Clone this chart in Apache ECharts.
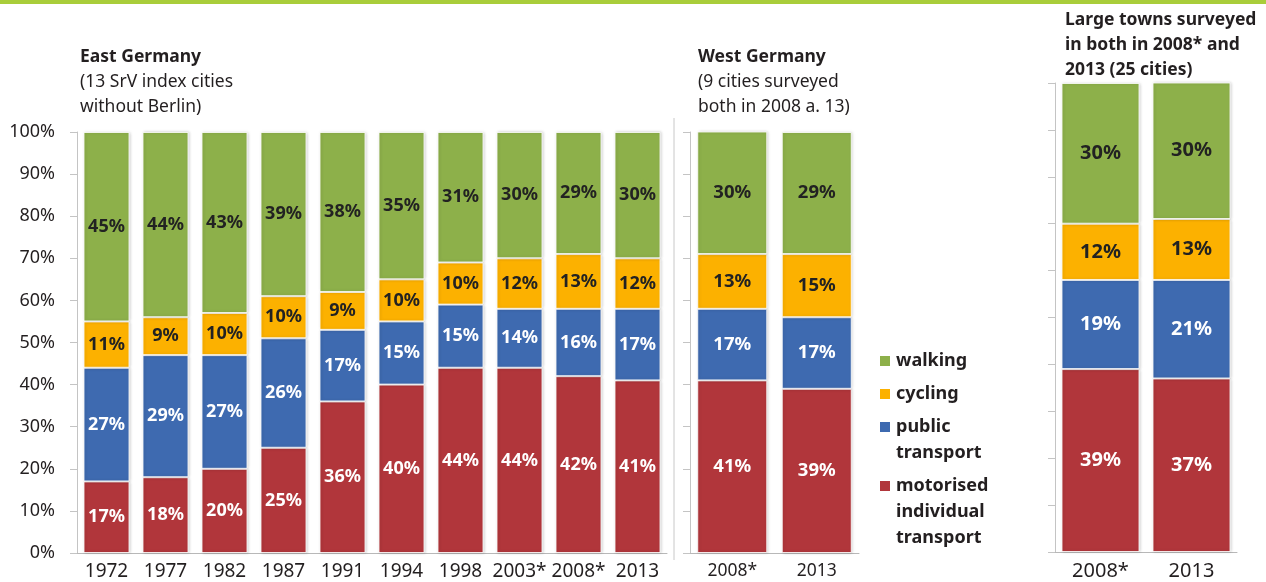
<!DOCTYPE html>
<html>
<head>
<meta charset="utf-8">
<title>Modal split</title>
<script src="https://cdn.jsdelivr.net/npm/echarts@6/dist/echarts.min.js"></script>
<style>
  html, body { margin: 0; padding: 0; background: #fff; }
  #main { width: 1266px; height: 582px; }
</style>
</head>
<body>
<div id="main"></div>
<script>
// East Germany, 13 SrV index cities
var eastYears = ['1972', '1977', '1982', '1987', '1991', '1994', '1998', '2003*', '2008*', '2013'];
var eastMotor = [17, 18, 20, 25, 36, 40, 44, 44, 42, 41];
var eastPublic = [27, 29, 27, 26, 17, 15, 15, 14, 16, 17];
var eastCycling = [11, 9, 10, 10, 9, 10, 10, 12, 13, 12];
var eastWalking = [45, 44, 43, 39, 38, 35, 31, 30, 29, 30];

// West Germany, 9 cities
var westYears = ['2008*', '2013'];
var westMotor = [41, 39];
var westPublic = [17, 17];
var westCycling = [13, 15];
var westWalking = [30, 29];

// large towns, 25 cities
var townYears = ['2008*', '2013'];
var townMotor = [39, 37];
var townPublic = [19, 21];
var townCycling = [12, 13];
var townWalking = [30, 30];

var modes = ['motorised individual transport', 'public transport', 'cycling', 'walking'];
var colors = ['#b1363b', '#3e6ab0', '#fcb100', '#8db04a'];
var labelColors = ['#fff', '#fff', '#222', '#222'];

var font = 'Noto Sans';
var dark = '#231f20';

var chart = echarts.init(document.getElementById('main'));

function axesFor(idx, cats, showLabels, catSize) {
  return {
    x: {
      type: 'category',
      gridIndex: idx,
      data: cats,
      axisLine: { lineStyle: { color: '#b8b8b8' } },
      axisTick: { length: 7, lineStyle: { color: '#b8b8b8' } },
      axisLabel: { interval: 0, color: dark, fontFamily: font, fontSize: catSize, margin: 9 }
    },
    y: {
      type: 'value',
      gridIndex: idx,
      min: 0,
      max: 100,
      interval: 10,
      splitLine: { show: false },
      axisLine: { show: true, lineStyle: { color: '#c4c4c4' } },
      axisTick: { show: true, length: 7, lineStyle: { color: '#c4c4c4' } },
      axisLabel: {
        show: showLabels,
        color: dark,
        fontFamily: font,
        fontSize: 18,
        margin: 22,
        formatter: '{value}%'
      }
    }
  };
}

var ax0 = axesFor(0, eastYears, true, 19);
var ax1 = axesFor(1, westYears, false, 17.5);
var ax2 = axesFor(2, townYears, false, 20);

function stackSeries(idx, width, size, lists) {
  return lists.map(function (vals, i) {
    return {
      name: modes[i],
      type: 'bar',
      stack: 'g' + idx,
      xAxisIndex: idx,
      yAxisIndex: idx,
      barWidth: width,
      data: vals,
      itemStyle: {
        color: colors[i],
        borderColor: 'rgba(255,255,255,0.8)',
        borderWidth: 1,
        shadowColor: 'rgba(0,0,0,0.18)',
        shadowBlur: 3,
        shadowOffsetX: 1
      },
      label: {
        show: true,
        position: 'inside',
        formatter: '{c}%',
        color: labelColors[i],
        fontFamily: font,
        fontWeight: 'bold',
        fontSize: size
      }
    };
  });
}

var series = []
  .concat(stackSeries(0, 46, 18, [eastMotor, eastPublic, eastCycling, eastWalking]))
  .concat(stackSeries(1, 70, 18.5, [westMotor, westPublic, westCycling, westWalking]))
  .concat(stackSeries(2, 78, 20, [townMotor, townPublic, townCycling, townWalking]));

var titleRich = {
  b: { fontFamily: font, fontSize: 17.5, fontWeight: 'bold', color: dark, lineHeight: 25 },
  n: { fontFamily: font, fontSize: 17.5, fontWeight: 'normal', color: dark, lineHeight: 25 }
};

// legend drawn by hand so the swatch sits on the first text line
var legendRows = [
  { color: colors[3], lines: ['walking'] },
  { color: colors[2], lines: ['cycling'] },
  { color: colors[1], lines: ['public', 'transport'] },
  { color: colors[0], lines: ['motorised', 'individual', 'transport'] }
];
var legendGraphic = [];
var ly = 361;
legendRows.forEach(function (row) {
  legendGraphic.push({
    type: 'rect', left: 880, top: ly - 5,
    shape: { width: 10, height: 10 },
    style: { fill: row.color }
  });
  legendGraphic.push({
    type: 'text', left: 896, top: ly - 13,
    style: {
      text: row.lines.join('\n'),
      fill: dark,
      font: 'bold 18px "' + font + '"',
      lineHeight: 26
    }
  });
  ly += row.lines.length * 26 + 7;
});

var option = {
  animation: false,
  textStyle: { fontFamily: font },
  title: [
    { left: 75, top: 40, text: '{b|East Germany}\n{n|(13 SrV index cities}\n{n|without Berlin)}', textStyle: { rich: titleRich } },
    { left: 693, top: 40, text: '{b|West Germany}\n{n|(9 cities surveyed}\n{n|both in 2008 a. 13)}', textStyle: { rich: titleRich } },
    { left: 1060, top: 3, text: '{b|Large towns surveyed}\n{b|in both in 2008* and}\n{b|2013 (25 cities)}', textStyle: { rich: titleRich } }
  ],
  grid: [
    { left: 77, top: 132, width: 590, height: 421 },
    { left: 690, top: 132, width: 169, height: 421 },
    { left: 1055, top: 83, width: 182, height: 469 }
  ],
  xAxis: [ax0.x, ax1.x, ax2.x],
  yAxis: [ax0.y, ax1.y, ax2.y],
  series: series,
  graphic: [
    { type: 'rect', left: 0, top: 0, shape: { width: 1266, height: 4 }, style: { fill: '#a9cd3a' } },
    { type: 'line', shape: { x1: 674, y1: 118, x2: 674, y2: 560 }, style: { stroke: '#c8c8c8', lineWidth: 1 } }
  ].concat(legendGraphic)
};

chart.setOption(option);
</script>
</body>
</html>
